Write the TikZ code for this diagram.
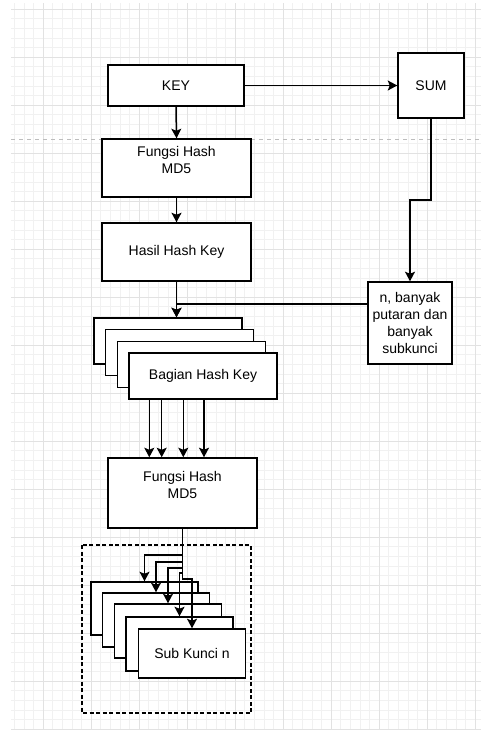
\documentclass[tikz,border=0pt]{standalone}
\usepackage{fontspec}
\setmainfont{Liberation Sans}
\usetikzlibrary{arrows.meta}

\begin{document}
\begin{tikzpicture}[x=1pt,y=-1pt,
  box/.style={draw=black, fill=white, line width=1.5pt, inner sep=0pt,
    font=\fontsize{14}{16.7}\selectfont, align=center},
  txt/.style={font=\fontsize{14}{16.7}\selectfont, align=center, inner sep=0pt},
  arr/.style={draw=black, line width=1.5pt,
    -{Stealth[length=9.5pt,width=10pt,inset=2pt]}},
  gridKecil/.style={draw=warnaGridK, line width=0.6pt},
  gridBesar/.style={draw=warnaGridB, line width=0.8pt}]

% Warna
\definecolor{warnaGridK}{HTML}{F1F1F1}
\definecolor{warnaGridB}{HTML}{E2E2E2}
\definecolor{warnaHalaman}{HTML}{BDBDBD}

\useasboundingbox (0,0) rectangle (481,731);
\fill[white] (0,0) rectangle (481,731);

% Latar grid
\begin{scope}
\clip (11,3) rectangle (481,730);
\foreach \i in {0,...,48} \draw[gridKecil] ({14.2+9.6*\i},3) -- ({14.2+9.6*\i},730);
\foreach \j in {0,...,75} \draw[gridKecil] (11,{9+9.6*\j}) -- (481,{9+9.6*\j});
\foreach \i in {0,...,9} \draw[gridBesar] ({43+48*\i},3) -- ({43+48*\i},730);
\foreach \j in {0,...,15} \draw[gridBesar] (11,{9+48*\j}) -- (481,{9+48*\j});
\end{scope}

% Batas halaman
\draw[warnaHalaman, line width=1pt, dash pattern=on 4pt off 4pt] (11,139) -- (481,139);

% Kotak atas
\node[box, minimum width=136, minimum height=41] (key) at (176,85.5) {KEY};
\node[box, minimum width=66, minimum height=65] (sum) at (431,85.5) {SUM};
\node[box, minimum width=149, minimum height=58] (md5a) at (176.5,168) {};
\node[txt] (md5aTeks) at ([yshift=8pt]md5a.center) {Fungsi Hash\\MD5};
\node[box, minimum width=149, minimum height=58] (hasil) at (176.5,252) {Hasil Hash Key};
\node[box, minimum width=84, minimum height=82] (nbox) at (410,323)
  {n, banyak\\putaran dan\\banyak\\subkunci};

% Tumpukan Bagian Hash Key
\node[box, minimum width=148, minimum height=46] (bag1) at (168,341) {};
\node[box, minimum width=148, minimum height=46] (bag2) at (179.7,352.7) {};
\node[box, minimum width=148, minimum height=46] (bag3) at (191.3,364.3) {};
\node[box, minimum width=148, minimum height=46] (bag4) at (203,376) {Bagian Hash Key};

% Fungsi hash kedua
\node[box, minimum width=149, minimum height=70] (md5b) at (182.5,493) {};
\node[txt] (md5bTeks) at ([yshift=8pt]md5b.center) {Fungsi Hash\\MD5};

% Kotak putus-putus dan Sub Kunci
\draw[black, line width=1.4pt, dash pattern=on 4pt off 2.5pt] (82,545) rectangle (251,713);
\node[box, minimum width=107, minimum height=53] (sub1) at (144.5,608.5) {};
\node[box, minimum width=107, minimum height=54] (sub2) at (156,620) {};
\node[box, minimum width=107, minimum height=54] (sub3) at (168,631) {};
\node[box, minimum width=107, minimum height=54] (sub4) at (179.5,644) {};
\node[box, minimum width=107, minimum height=49] (sub5) at (192,653.5) {Sub Kunci n};

% Panah
\draw[arr] (key.east) -- (sum.west);
\draw[arr] (key.south) -- (md5a.north);
\draw[arr] (md5a.south) -- (hasil.north);
\draw[arr] (sum.south) |- (nbox.north |- 0,200) -- (nbox.north);
\draw[arr] (hasil.south) -- (bag1.north -| hasil.south);
\draw[arr] (nbox.west |- 0,304) -| (bag1.north -| hasil.south);
\foreach \x in {149.3,161.7,183.3,204}
  \draw[arr] (\x,0 |- bag4.south) -- (\x,0 |- md5b.north);

% Cabang ke Sub Kunci
\draw[arr] (md5b.south) |- (sub1.north |- 0,555) -- (sub1.north);
\draw[arr] (md5b.south) |- (sub2.north |- 0,562) -- (sub2.north);
\draw[arr] (md5b.south) |- (sub3.north |- 0,568) -- (sub3.north);
\draw[arr] (md5b.south) |- (sub4.north |- 0,573) -- (sub4.north);
\draw[arr] (md5b.south) |- (sub5.north |- 0,579) -- (sub5.north);

\end{tikzpicture}
\end{document}
